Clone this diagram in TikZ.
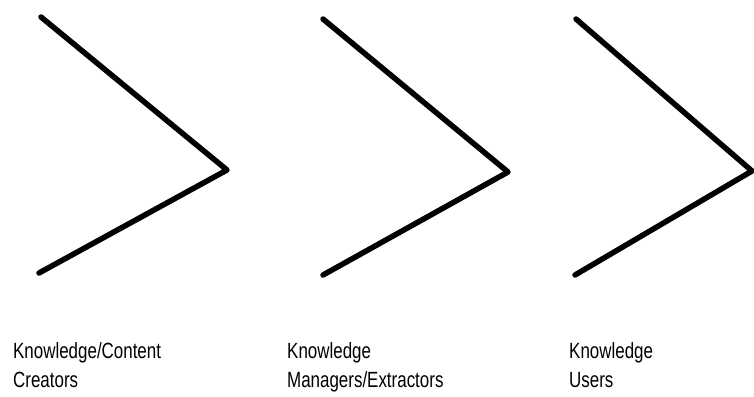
\documentclass[tikz,border=0pt]{standalone}
\usepackage{fontspec}
\setmainfont[FakeStretch=0.77]{Liberation Sans}
\begin{document}
\begin{tikzpicture}[x=1pt,y=-1pt,
  chev/.style={line width=5.5pt,line cap=round,line join=round,black},
  lbl/.style={anchor=base west,inner sep=0pt,align=left,font=\fontsize{22}{29}\selectfont}]
\useasboundingbox (0,0) rectangle (754,396);
\coordinate (a1) at (41,17);
\coordinate (p1) at (227,170);
\coordinate (b1) at (39,273);
\coordinate (a2) at (323,19);
\coordinate (p2) at (508,172);
\coordinate (b2) at (323,275);
\coordinate (a3) at (576,19);
\coordinate (p3) at (752,171);
\coordinate (b3) at (575,275);
\draw[chev] (a1) -- (p1) -- (b1);
\draw[chev] (a2) -- (p2) -- (b2);
\draw[chev] (a3) -- (p3) -- (b3);
\node[lbl] (t1) at (13,387) {Knowledge/Content\\Creators};
\node[lbl] (t2) at (287,387) {Knowledge\\Managers/Extractors};
\node[lbl] (t3) at (569,387) {Knowledge\\Users};
\end{tikzpicture}
\end{document}
